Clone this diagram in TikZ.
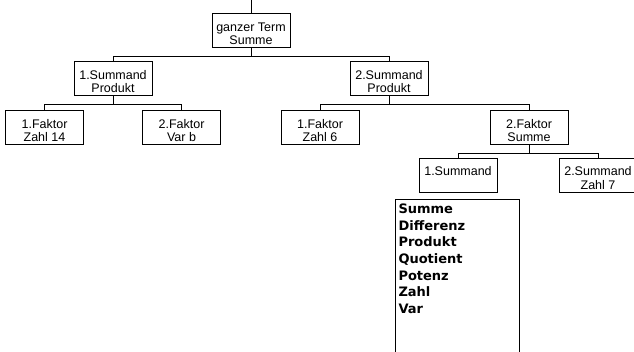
\documentclass[tikz,border=0pt]{standalone}
\usepackage{fontspec}
\setmainfont{Liberation Sans}
\newfontfamily\listfont{DejaVu Sans}
\newcommand\tstrut{\rule{0pt}{14.5pt}}
\begin{document}
\begin{tikzpicture}[x=1pt,y=-1pt,
  box/.style={draw, line width=1pt, minimum width=78pt, minimum height=34pt,
    inner sep=0pt, align=center, font=\fontsize{12.5}{13.5}\selectfont},
  conn/.style={line width=1pt},
  listbox/.style={draw, line width=1pt, inner sep=0pt, anchor=north west}]
\path[use as bounding box, clip] (0,0) rectangle (634,352);
\fill[white] (0,0) rectangle (634,352);
\coordinate (root) at (251,0);
\node[box] (top) at (251,31) {\tstrut ganzer Term\\Summe};
\node[box] (s1) at (113,79) {\tstrut 1.Summand\\Produkt};
\node[box] (s2) at (389,79) {\tstrut 2.Summand\\Produkt};
\node[box] (f1) at (44.5,128) {\tstrut 1.Faktor\\Zahl 14};
\node[box] (f2) at (181.5,128) {\tstrut 2.Faktor\\Var b};
\node[box] (f3) at (320,128) {\tstrut 1.Faktor\\Zahl 6};
\node[box] (f4) at (529,128) {\tstrut 2.Faktor\\Summe};
\node[box] (t1) at (458,175.5) {\tstrut 1.Summand\\\phantom{Zahl}};
\node[box] (t2) at (598,175.5) {\tstrut 2.Summand\\Zahl 7};
\node[listbox] (list) at (395,199) {\parbox[t][170pt][t]{124pt}{\listfont\bfseries\fontsize{13}{16.67}\selectfont\leftskip=3pt
  \rule{0pt}{14pt}Summe\\Differenz\\Produkt\\Quotient\\Potenz\\Zahl\\Var}};
\draw[conn] (root) -- (top.north);
\draw[conn] (top.south) -- ++(0,8) -| (s1.north);
\draw[conn] (top.south) -- ++(0,8) -| (s2.north);
\draw[conn] (s1.south) -- ++(0,8) -| (f1.north);
\draw[conn] (s1.south) -- ++(0,8) -| (f2.north);
\draw[conn] (s2.south) -- ++(0,8) -| (f3.north);
\draw[conn] (s2.south) -- ++(0,8) -| (f4.north);
\draw[conn] (f4.south) -- ++(0,8) -| (t1.north);
\draw[conn] (f4.south) -- ++(0,8) -| (t2.north);
\end{tikzpicture}
\end{document}
